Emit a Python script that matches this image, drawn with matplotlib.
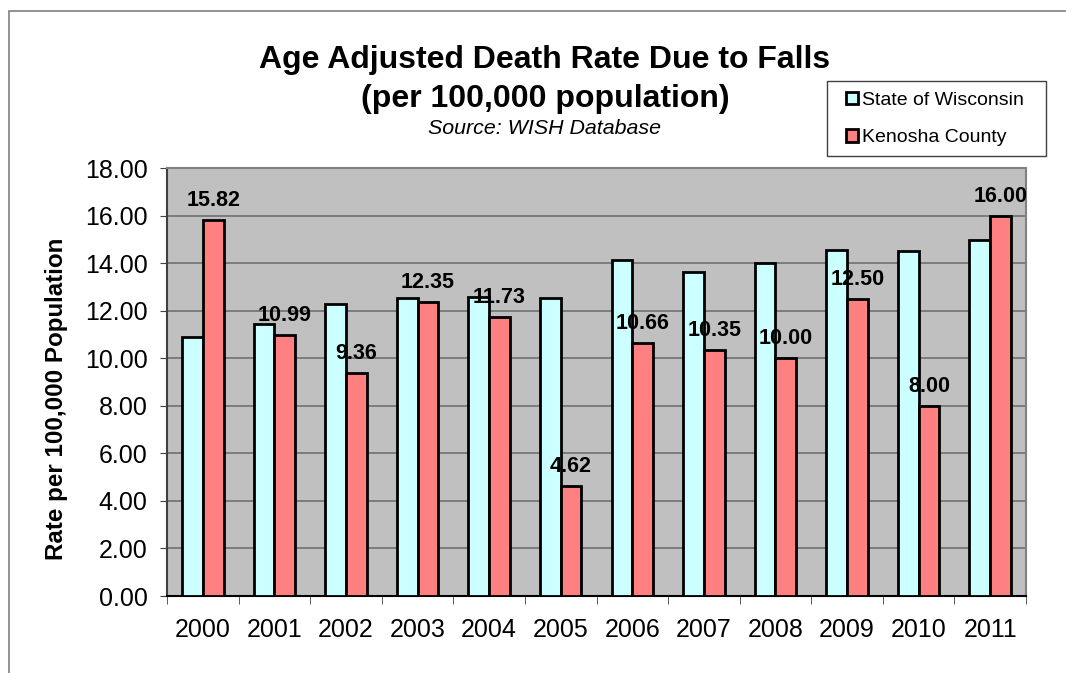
import numpy as np
import matplotlib.pyplot as plt
from matplotlib.patches import Rectangle

plt.rcParams['font.family'] = ['Liberation Sans', 'DejaVu Sans']

years = ['2000', '2001', '2002', '2003', '2004', '2005',
         '2006', '2007', '2008', '2009', '2010', '2011']
wisconsin = [10.88, 11.42, 12.29, 12.55, 12.56, 12.53,
             14.13, 13.63, 14.00, 14.57, 14.49, 14.97]
kenosha = [15.82, 10.99, 9.36, 12.35, 11.73, 4.62,
           10.66, 10.35, 10.00, 12.50, 8.00, 16.00]

W, H = 1066, 673
fig = plt.figure(figsize=(W / 100, H / 100), dpi=100)
ax = fig.add_axes([167 / W, 1 - 596 / H, (1026 - 167) / W, (596 - 168) / H])

# outer frame of the chart area (cut off at right and bottom)
fig.patches.append(Rectangle((9 / W, -0.1), 1.2, 1 - 11 / H + 0.1,
                             transform=fig.transFigure, fill=False,
                             edgecolor='#808080', linewidth=1.2))

x = np.arange(len(years))
bw = 0.29
ax.set_facecolor('#C0C0C0')
ax.bar(x - bw / 2, wisconsin, bw, color='#CCFFFF', edgecolor='black',
       linewidth=2.0, label='State of Wisconsin', zorder=3)
ax.bar(x + bw / 2, kenosha, bw, color='#FF8080', edgecolor='black',
       linewidth=2.0, label='Kenosha County', zorder=3)

for xi, v in zip(x, kenosha):
    ax.annotate(f'{v:.2f}', (xi + bw / 2, v), xytext=(0, 6.5),
                textcoords='offset points', ha='center', va='bottom',
                fontsize=15.5, fontweight='bold', zorder=5)

ax.set_xlim(-0.5, len(years) - 0.5)
ax.set_ylim(0, 18)
ax.set_yticks(np.arange(0, 18.01, 2))
ax.set_yticklabels([f'{t:.2f}' for t in np.arange(0, 18.01, 2)], fontsize=18)
ax.set_xticks(x)
ax.set_xticklabels(years, fontsize=18)
ax.set_xticks(np.arange(-0.5, len(years)), minor=True)
ax.tick_params(axis='x', which='major', length=0, pad=16)
ax.tick_params(axis='x', which='minor', length=6, color='#404040', direction='out')
ax.tick_params(axis='y', length=5, color='#404040', pad=9)
ax.yaxis.grid(True, color='#707070', linewidth=1.2, zorder=0)
ax.set_axisbelow(True)
for s in ['top', 'right']:
    ax.spines[s].set_color('#808080')
    ax.spines[s].set_linewidth(1.5)
ax.spines['left'].set_color('#404040')
ax.spines['bottom'].set_color('black')
ax.spines['left'].set_linewidth(1.5)
ax.spines['bottom'].set_linewidth(1.5)

fig.text(57 / W, 1 - 399 / H, 'Rate per 100,000 Population', rotation=90,
         ha='center', va='center', fontsize=17.4, fontweight='bold')

fig.text(545 / W, 1 - 60 / H, 'Age Adjusted Death Rate Due to Falls',
         ha='center', va='center', fontsize=23, fontweight='bold')
fig.text(545 / W, 1 - 99 / H, '(per 100,000 population)',
         ha='center', va='center', fontsize=23, fontweight='bold')
fig.text(545 / W, 1 - 128 / H, 'Source: WISH Database',
         ha='center', va='center', fontsize=15.4, style='italic')

# legend box drawn separately so its padding matches
fig.patches.append(Rectangle((827 / W, 1 - 156 / H), (1046 - 827) / W, 75 / H,
                             transform=fig.transFigure, facecolor='white',
                             edgecolor='#404040', linewidth=1.0, zorder=4))
leg = fig.legend(loc='center left', bbox_to_anchor=(846 / W, 1 - 119 / H),
                 fontsize=14, frameon=False,
                 handlelength=0.6, handleheight=0.6, handletextpad=0.2,
                 labelspacing=1.05, borderpad=0, borderaxespad=0)
leg.set_zorder(5)

fig.savefig('out.png', dpi=100)
